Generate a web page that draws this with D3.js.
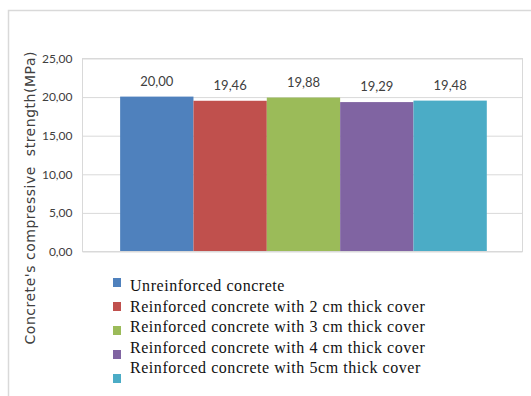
<!DOCTYPE html>
<html>
<head>
<meta charset="utf-8">
<script src="https://cdn.jsdelivr.net/npm/d3@7"></script>
<style>
  html, body { margin: 0; padding: 0; background: #fff; }
  svg { display: block; }
</style>
</head>
<body>
<svg id="chart" width="531" height="396"></svg>
<script>
// Compressive strength of concrete specimens (MPa)
const seriesNames = [
  "Unreinforced concrete",
  "Reinforced concrete with 2 cm thick cover",
  "Reinforced concrete with 3 cm thick cover",
  "Reinforced concrete with 4 cm thick cover",
  "Reinforced concrete with 5cm thick cover"
];
const strengthValues = [20.00, 19.46, 19.88, 19.29, 19.48];
const seriesColors = ["#4F81BD", "#C0504D", "#9BBB59", "#8064A2", "#4BACC6"];
const yTicks = [0, 5, 10, 15, 20, 25];
const yTitle = "Concrete's compressive  strength(MPa)";

const locale = d3.formatLocale({ decimal: ",", thousands: ".", grouping: [3], currency: ["", ""] });
const fmt = locale.format(".2f");

const svg = d3.select("#chart");
const W = 531, H = 396;

// outer chart frame (open on right and bottom)
svg.append("path")
  .attr("d", `M8.5,${H} V10.5 H${W}`)
  .attr("fill", "none")
  .attr("stroke", "#d9d9d9")
  .attr("stroke-width", 1.5);

const plot = { left: 82, top: 58, right: 522, bottom: 251 };

const y = d3.scaleLinear().domain([0, 25]).range([plot.bottom, plot.top]);
const x = d3.scaleBand()
  .domain(seriesNames)
  .range([plot.left, plot.right])
  .paddingInner(0)
  .paddingOuter(0.5)
  .align(0.52);

// plot area border + gridlines
const g = svg.append("g");
g.append("rect")
  .attr("x", plot.left + 0.5).attr("y", plot.top + 0.5)
  .attr("width", plot.right - plot.left).attr("height", plot.bottom - plot.top)
  .attr("fill", "none").attr("stroke", "#d9d9d9");

const yAxis = d3.axisLeft(y).tickValues(yTicks).tickSize(-(plot.right - plot.left)).tickPadding(10).tickFormat(fmt);
const ya = g.append("g").attr("transform", `translate(${plot.left + 0.5},0.5)`).call(yAxis);
ya.select(".domain").remove();
ya.selectAll(".tick line").attr("stroke", "#d9d9d9");
ya.selectAll(".tick text")
  .attr("fill", "#404040")
  .attr("font-family", "Lato, 'Open Sans', sans-serif")
  .attr("font-size", 12);

// bars
g.selectAll("rect.bar")
  .data(seriesNames)
  .join("rect")
  .attr("class", "bar")
  .attr("x", d => x(d))
  .attr("width", x.bandwidth())
  .attr("y", (d, i) => y(strengthValues[i]))
  .attr("height", (d, i) => plot.bottom - y(strengthValues[i]))
  .attr("fill", (d, i) => seriesColors[i]);

// value labels
g.selectAll("text.val")
  .data(seriesNames)
  .join("text")
  .attr("class", "val")
  .attr("x", d => x(d) + x.bandwidth() / 2)
  .attr("y", (d, i) => y(strengthValues[i]) - 11)
  .attr("text-anchor", "middle")
  .attr("fill", "#404040")
  .attr("font-family", "Lato, 'Open Sans', sans-serif")
  .attr("font-size", 13)
  .text((d, i) => fmt(strengthValues[i]));

// y-axis title
svg.append("text")
  .attr("transform", "translate(35,198) rotate(-90)")
  .attr("text-anchor", "middle")
  .attr("fill", "#404040")
  .attr("font-family", "'DejaVu Sans', Verdana, sans-serif")
  .attr("font-size", 14)
  .attr("textLength", 293)
  .attr("lengthAdjust", "spacing")
  .style("white-space", "pre")
  .text(yTitle);

// legend
const legend = svg.append("g");
seriesNames.forEach((name, i) => {
  legend.append("rect")
    .attr("x", 113).attr("y", 278 + i * 24)
    .attr("width", 8).attr("height", 9)
    .attr("fill", seriesColors[i]);
  legend.append("text")
    .attr("x", 130).attr("y", 291 + i * 20.5)
    .attr("fill", "#111")
    .attr("font-family", "'Liberation Serif', 'Times New Roman', serif")
    .attr("font-size", 16)
    .attr("letter-spacing", 0.55)
    .text(name);
});
</script>
</body>
</html>
